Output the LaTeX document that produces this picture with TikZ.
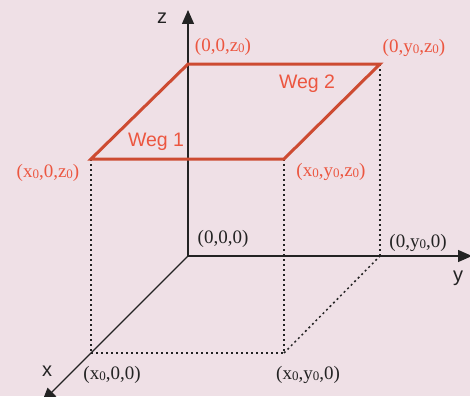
\documentclass[tikz,border=0pt]{standalone}
\usepackage{fontspec}
\setmainfont{Liberation Serif}
\setsansfont{Liberation Sans}
\usetikzlibrary{arrows.meta}
\definecolor{bg}{RGB}{239,224,230}
\definecolor{wegline}{RGB}{205,75,50}
\definecolor{weglabel}{RGB}{236,86,64}
\definecolor{ink}{RGB}{35,35,35}
\newcommand\nought{\raisebox{-0.1ex}{\fontsize{13}{13}\selectfont 0}}
\begin{document}
\begin{tikzpicture}[x=1pt,y=-1pt,
  axis/.style={draw=ink, line width=1.3pt, -{Triangle[length=14pt,width=12pt]}},
  guide/.style={draw=ink, line width=1.5pt, dash pattern=on 2pt off 3pt},
  weg/.style={draw=wegline, line width=3pt, line join=miter},
  coord/.style={font=\fontsize{19}{19}\selectfont, text=ink, inner sep=0pt},
  redcoord/.style={coord, text=weglabel},
  axlabel/.style={font=\sffamily\fontsize{20}{20}\selectfont, text=ink, inner sep=0pt},
  weglab/.style={font=\sffamily\fontsize{19.5}{19.5}\selectfont, text=weglabel, inner sep=0pt}]
\fill[bg] (0,0) rectangle (470,396);
\useasboundingbox (0,0) rectangle (470,396);
% points
\coordinate (O) at (188,256);
\coordinate (Z) at (188,64);
\coordinate (YZ) at (380,64);
\coordinate (XZ) at (91,159);
\coordinate (XYZ) at (284,159);
\coordinate (Y) at (380,256);
\coordinate (X) at (91,353);
\coordinate (XY) at (284,353);
\coordinate (zend) at (188,10);
\coordinate (yend) at (472,256);
\coordinate (xend) at (42,402);
% guides
\draw[guide] (XZ) -- (X);
\draw[guide] (XYZ) -- (XY);
\draw[guide] (YZ) -- (Y);
\draw[guide] (X) -- (XY);
\draw[guide] (XY) -- (Y);
% axes
\draw[axis] (O) -- (zend);
\draw[axis] (O) -- (yend);
\draw[axis] (O) -- (xend);
% paths
\draw[weg] (XZ) -- (Z) -- (YZ) -- (XYZ) -- cycle;
% labels
\node[axlabel] (lz) at (162,18) {z};
\node[axlabel] (ly) at (458,278) {y};
\node[axlabel] (lx) at (47,371) {x};
\node[weglab] (w1) at (156,142) {Weg 1};
\node[weglab] (w2) at (307,84) {Weg 2};
\node[redcoord] (lZ) at (223,47) {(0,0,z\nought)};
\node[redcoord] (lYZ) at (414,48) {(0,y\nought,z\nought)};
\node[redcoord] (lXZ) at (48,173) {(x\nought,0,z\nought)};
\node[redcoord] (lXYZ) at (331,172) {(x\nought,y\nought,z\nought)};
\node[coord] (lO) at (223,239) {(0,0,0)};
\node[coord] (lY) at (418,243) {(0,y\nought,0)};
\node[coord] (lX) at (112,375) {(x\nought,0,0)};
\node[coord] (lXY) at (308,375) {(x\nought,y\nought,0)};
\end{tikzpicture}
\end{document}
